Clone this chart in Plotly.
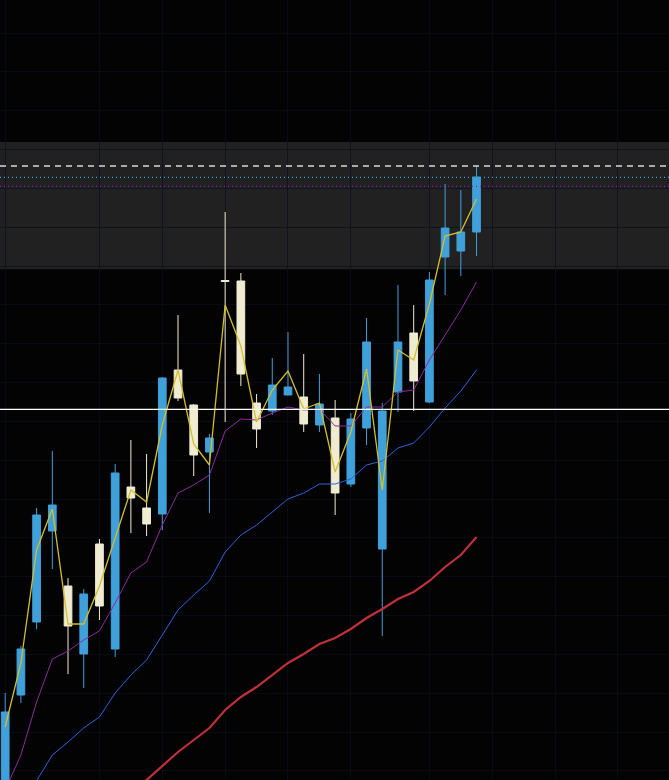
import plotly.graph_objects as go

# ---- data (price units) ----
idx = list(range(31))
opens  = [120.0, 130.5, 137.8, 146.9, 141.4, 134.6, 145.6, 135.1, 151.3, 149.2,
          148.6, 163.0, 159.5, 154.8, 171.95, 171.9, 159.7, 158.9, 160.5, 160.3,
          157.5, 158.2, 151.6, 157.2, 145.1, 160.8, 166.7, 159.8, 174.3, 174.9, 176.8]
highs  = [130.7, 135.4, 149.2, 154.9, 142.2, 141.1, 146.1, 153.6, 156.0, 154.6,
          162.3, 168.5, 159.6, 156.6, 178.8, 172.7, 160.6, 164.2, 166.8, 164.6,
          162.6, 160.0, 158.7, 168.2, 159.7, 171.5, 169.5, 172.8, 181.6, 181.0, 183.4]
lows   = [118.8, 129.7, 137.1, 143.1, 132.6, 131.2, 138.0, 134.3, 146.7, 146.4,
          147.0, 159.9, 152.4, 148.7, 157.8, 161.4, 155.2, 158.5, 160.5, 156.8,
          156.8, 148.5, 151.3, 155.5, 136.4, 158.8, 158.9, 159.7, 170.5, 172.4, 174.4]
closes = [128.8, 135.1, 148.5, 149.5, 137.4, 140.6, 139.4, 152.7, 150.2, 147.6,
          162.2, 160.2, 154.5, 156.2, 171.85, 162.6, 157.1, 161.5, 161.3, 157.6,
          159.6, 150.7, 158.1, 165.8, 158.9, 165.8, 161.9, 172.0, 177.2, 176.8, 182.3]

typical = [127.3, 133.7, 145.0, 149.1, 137.6, 137.6, 141.4, 146.3, 151.0, 149.8,
           157.5, 163.0, 155.6, 153.5, 169.5, 165.4, 157.8, 161.0, 162.9, 159.1,
           159.7, 152.8, 156.8, 163.1, 151.0, 165.0, 164.0, 169.6, 176.4, 176.8, 180.1]
ma_fast = [121.0, 124.5, 129.8, 134.1, 134.9, 136.0, 136.9, 139.7, 142.7, 143.8,
           147.5, 150.7, 151.5, 152.5, 156.9, 158.1, 158.0, 158.7, 159.3, 159.0,
           159.1, 157.4, 157.4, 159.3, 159.3, 160.8, 161.0, 164.0, 166.5, 169.0, 171.8]
ma_mid = [116.8, 119.4, 122.0, 124.5, 125.8, 127.2, 128.3, 130.7, 132.5, 134.0,
          136.5, 139.0, 140.5, 141.9, 144.8, 146.5, 147.5, 148.8, 150.1, 150.7,
          151.6, 151.6, 152.1, 153.5, 153.9, 155.2, 155.7, 157.3, 159.2, 160.9, 163.0]
ma_slow = [None, None, None, None, None, None, None, None, 120.6, 122.0,
           123.3, 124.8, 126.0, 127.2, 129.0, 130.3, 131.3, 132.5, 133.7, 134.6,
           135.6, 136.2, 137.1, 138.2, 139.1, 140.1, 140.8, 141.9, 143.3, 144.5, 146.3]

grid_x = [0, 6, 10, 14, 18, 22, 27, 31, 35, 39]
zone_low, zone_high = 173.07, 185.8
level_dash = 183.4
level_blue = 182.27
level_purple = 181.37
level_white = 159.07

BLUE = "#40a0da"
CREAM = "#f0ecd2"
GRID = "rgba(12,16,24,0.7)"

fig = go.Figure()
fig.add_trace(go.Scatter(x=idx, y=ma_slow, mode="lines",
                         line=dict(color="#c0303a", width=2.2), hoverinfo="skip"))
fig.add_trace(go.Scatter(x=idx, y=ma_mid, mode="lines",
                         line=dict(color="#2f62dc", width=1), hoverinfo="skip"))
fig.add_trace(go.Scatter(x=idx, y=ma_fast, mode="lines",
                         line=dict(color="#8e2aa0", width=1), hoverinfo="skip"))
fig.add_trace(go.Scatter(x=idx, y=typical, mode="lines",
                         line=dict(color="#d4bf2a", width=1.3), hoverinfo="skip"))
fig.add_trace(go.Candlestick(
    x=idx, open=opens, high=highs, low=lows, close=closes,
    increasing=dict(line=dict(color=BLUE, width=1), fillcolor=BLUE),
    decreasing=dict(line=dict(color=CREAM, width=1), fillcolor=CREAM),
    whiskerwidth=0, hoverinfo="skip"))

fig.add_shape(type="rect", xref="paper", x0=0, x1=1, y0=zone_low, y1=zone_high,
              fillcolor="#212121", line=dict(width=0), layer="below")
fig.add_shape(type="line", xref="paper", x0=0, x1=1, y0=level_dash, y1=level_dash,
              line=dict(color="#d8d8d8", width=1.3, dash="6px,5px"), layer="above")
fig.add_shape(type="line", xref="paper", x0=0, x1=1, y0=level_blue, y1=level_blue,
              line=dict(color="#3fa0e0", width=1.3, dash="1px,3px"), layer="above")
fig.add_shape(type="line", xref="paper", x0=0, x1=1, y0=level_purple, y1=level_purple,
              line=dict(color="#a010c8", width=1.3, dash="1px,3px"), layer="above")
fig.add_shape(type="line", xref="paper", x0=0, x1=1, y0=level_white, y1=level_white,
              line=dict(color="#ffffff", width=1.3), layer="above")

fig.update_layout(
    width=669, height=780,
    margin=dict(l=0, r=0, t=0, b=0),
    paper_bgcolor="#030303", plot_bgcolor="#030303",
    showlegend=False,
    xaxis=dict(range=[-0.33, 42.25], tickmode="array", tickvals=grid_x,
               showticklabels=False, showgrid=True, gridcolor=GRID, gridwidth=1,
               zeroline=False, showline=False, rangeslider=dict(visible=False), fixedrange=True),
    yaxis=dict(range=[122.0, 200.0], tick0=196.7, dtick=3.884, showticklabels=False,
               showgrid=True, gridcolor=GRID, gridwidth=1,
               zeroline=False, showline=False, fixedrange=True),
)

fig.write_html("out.html", config={"displayModeBar": False},
               post_script="document.body.style.margin='0';document.body.style.background='#030303';")
